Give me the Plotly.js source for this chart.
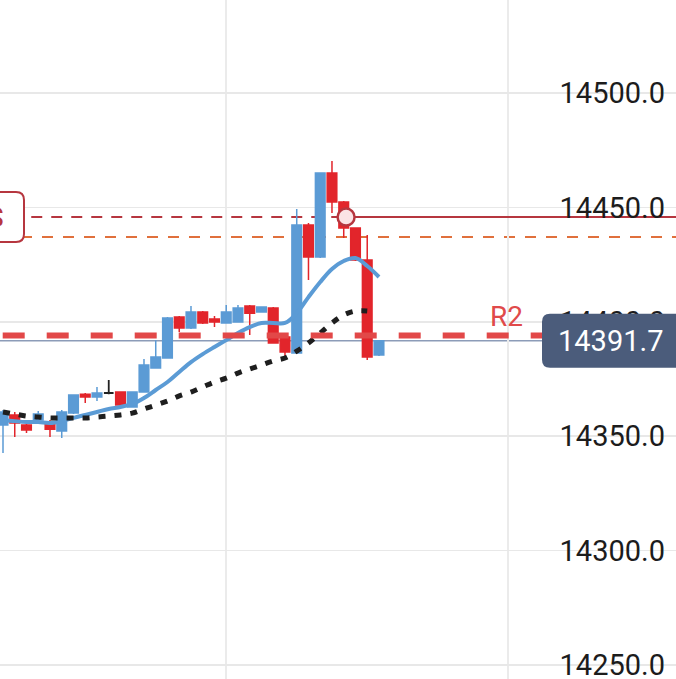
<!DOCTYPE html>
<html>
<head>
<meta charset="utf-8">
<script src="https://cdn.plot.ly/plotly-3.0.1.min.js"></script>
<style>
  html, body { margin: 0; padding: 0; background: #fff; }
  #chart { width: 676px; height: 679px; }
</style>
</head>
<body>
<div id="chart"></div>
<script>
// candles
const opens  = [14354.9, 14359.3, 14354.9, 14357.1, 14355.8, 14352.3, 14360.1, 14368.4, 14367.1, 14368.9,
                14369.3, 14362.8, 14369.3, 14379.8, 14384.2, 14402.1, 14397.3, 14404.3, 14401.2, 14399.5,
                14399.9, 14406.9, 14404.3, 14406.0, 14393.4, 14386.4, 14442.3, 14428.3, 14465.0, 14452.4,
                14441.0, 14427.0, 14385.5];
const highs  = [14361.5, 14360.6, 14356.2, 14361.0, 14357.1, 14361.5, 14368.4, 14368.9, 14371.5, 14374.6,
                14369.7, 14369.7, 14383.7, 14392.0, 14402.1, 14402.5, 14406.9, 14404.7, 14402.5, 14407.3,
                14407.3, 14407.3, 14406.5, 14406.5, 14395.1, 14449.3, 14443.2, 14465.4, 14470.3, 14452.8,
                14441.0, 14437.9, 14391.7];
const lows   = [14342.7, 14349.7, 14351.4, 14355.8, 14349.7, 14349.2, 14359.7, 14364.5, 14365.4, 14368.4,
                14363.2, 14362.4, 14369.3, 14379.8, 14384.2, 14395.5, 14396.9, 14399.1, 14397.7, 14399.5,
                14399.9, 14394.2, 14404.3, 14390.7, 14384.6, 14385.9, 14418.3, 14427.9, 14447.6, 14436.6,
                14426.6, 14383.3, 14385.1];
const closes = [14360.6, 14355.8, 14352.7, 14359.7, 14353.1, 14360.6, 14368.0, 14367.1, 14368.9, 14368.9,
                14363.6, 14369.3, 14381.1, 14384.6, 14401.7, 14397.3, 14404.3, 14399.5, 14399.9, 14404.3,
                14406.0, 14403.8, 14406.5, 14390.7, 14386.8, 14442.3, 14428.3, 14465.0, 14452.4, 14441.0,
                14427.0, 14384.6, 14391.7];

// moving averages
const maFast = [14357.1, 14356.6, 14356.2, 14356.2, 14355.8, 14356.6, 14358.0, 14359.3, 14360.6, 14361.9,
                14362.8, 14364.1, 14366.7, 14370.2, 14373.7, 14378.1, 14382.4, 14385.9, 14389.0, 14392.0,
                14395.1, 14397.7, 14399.5, 14399.5, 14399.5, 14403.8, 14410.8, 14417.4, 14423.1, 14426.6,
                14427.9, 14424.4, 14419.6];
const maSlow = [14360.6, 14359.7, 14358.8, 14358.4, 14358.0, 14358.0, 14358.0, 14358.0, 14358.4, 14358.8,
                14359.3, 14360.1, 14361.9, 14363.6, 14365.4, 14367.6, 14369.3, 14371.5, 14373.7, 14375.4,
                14377.6, 14379.4, 14381.1, 14382.9, 14384.2, 14387.2, 14390.7, 14395.1, 14399.5, 14403.0,
                14404.7, 14404.7];

const yTicks = [14250, 14300, 14350, 14400, 14450, 14500];
const timeGrid = [19, 43];

// levels
const r2Level = 14394.0;
const orderLevel = 14445.8;
const orderStart = 29.2;
const limitLevel = 14437.1;
const lastPrice = closes[closes.length - 1];

const idx = opens.map((_, i) => i);
const flat = idx.filter(i => opens[i] === closes[i]);
const moving = idx.filter(i => opens[i] !== closes[i]);
const pick = (arr, ids) => ids.map(i => arr[i]);

const BLUE = '#5b9bd5';
const RED = '#e2252b';
const DARKRED = '#b6363f';

const candles = {
  type: 'candlestick',
  x: moving, open: pick(opens, moving), high: pick(highs, moving),
  low: pick(lows, moving), close: pick(closes, moving),
  increasing: { line: { color: BLUE, width: 1.5 }, fillcolor: BLUE },
  decreasing: { line: { color: RED, width: 1.5 }, fillcolor: RED },
  hoverinfo: 'skip'
};
const dojis = {
  type: 'candlestick',
  x: flat, open: pick(opens, flat), high: pick(highs, flat),
  low: pick(lows, flat), close: pick(closes, flat),
  increasing: { line: { color: '#222', width: 1.8 }, fillcolor: '#222' },
  decreasing: { line: { color: '#222', width: 1.8 }, fillcolor: '#222' },
  hoverinfo: 'skip'
};
const fast = {
  type: 'scatter', mode: 'lines', x: idx, y: maFast,
  line: { color: BLUE, width: 4, shape: 'spline' }, hoverinfo: 'skip'
};
const slow = {
  type: 'scatter', mode: 'lines', x: idx.slice(0, maSlow.length), y: maSlow,
  line: { color: '#1e1e1e', width: 5, dash: '7px,9px', shape: 'spline' }, hoverinfo: 'skip'
};
const order = {
  type: 'scatter', mode: 'markers', x: [orderStart], y: [orderLevel],
  marker: { size: 17, color: '#fbe3e5', line: { color: DARKRED, width: 2.5 } },
  hoverinfo: 'skip'
};

// rounded boxes, sized in pixels round their anchor
const priceBox = 'M -126,-27 L 10,-27 L 10,27 L -126,27 Q -134,27 -134,19 L -134,-19 Q -134,-27 -126,-27 Z';
const orderBox = 'M -20,-25 L 16,-25 Q 24,-25 24,-17 L 24,17 Q 24,25 16,25 L -20,25 Z';

const layout = {
  width: 676, height: 679,
  margin: { l: 0, r: 0, t: 0, b: 0 },
  paper_bgcolor: '#fff', plot_bgcolor: '#fff',
  showlegend: false,
  boxgap: 0.18, boxgroupgap: 0,
  font: { family: 'Roboto, sans-serif' },
  xaxis: {
    range: [-0.255, 57.28],
    rangeslider: { visible: false },
    tickvals: timeGrid, showticklabels: false, ticks: '',
    showgrid: true, gridcolor: '#ebebeb', gridwidth: 1.5,
    zeroline: false, showline: false, fixedrange: true
  },
  yaxis: {
    side: 'right', range: [14243.9, 14540.65],
    tickvals: yTicks, tickformat: '.1f',
    ticklabelposition: 'inside', ticklabeloverflow: 'allow', ticks: '', ticklabelstandoff: 8,
    tickfont: { family: 'Roboto, sans-serif', size: 29, color: '#1c1c1c' },
    showgrid: true, gridcolor: '#e8e8e8', gridwidth: 1.5,
    zeroline: false, showline: false, fixedrange: true
  },
  shapes: [
    { type: 'line', xref: 'paper', x0: 0, x1: 1, yref: 'y', y0: lastPrice, y1: lastPrice,
      line: { color: '#8c9cb8', width: 1.5 }, layer: 'between' },
    { type: 'line', xref: 'x', x0: -1, x1: orderStart, yref: 'y', y0: orderLevel, y1: orderLevel,
      line: { color: DARKRED, width: 2, dash: '11px,9px' }, layer: 'between' },
    { type: 'line', xref: 'x', x0: orderStart, x1: 60, yref: 'y', y0: orderLevel, y1: orderLevel,
      line: { color: DARKRED, width: 2 }, layer: 'between' },
    { type: 'line', xref: 'paper', x0: 0, x1: 1, yref: 'y', y0: limitLevel, y1: limitLevel,
      line: { color: '#e0703c', width: 2, dash: '11px,10px' }, layer: 'between' },
    { type: 'line', xref: 'paper', x0: 0.004, x1: 1, yref: 'y', y0: r2Level, y1: r2Level,
      line: { color: '#e24848', width: 6, dash: '22px,22px' }, layer: 'above' },
    { type: 'path', xref: 'paper', xsizemode: 'pixel', xanchor: 1,
      yref: 'y', ysizemode: 'pixel', yanchor: lastPrice, path: priceBox,
      fillcolor: '#4b5c7b', line: { width: 0 }, layer: 'above' },
    { type: 'path', xref: 'paper', xsizemode: 'pixel', xanchor: 0,
      yref: 'y', ysizemode: 'pixel', yanchor: orderLevel, path: orderBox,
      fillcolor: '#ffffff', line: { color: DARKRED, width: 2 }, layer: 'above' }
  ],
  annotations: [
    { xref: 'paper', x: 506 / 676, xanchor: 'center', yref: 'y', y: r2Level, yanchor: 'bottom',
      yshift: 1, text: 'R2', showarrow: false,
      font: { family: 'Roboto, sans-serif', size: 28, color: '#e04a4a' } },
    { xref: 'paper', x: 556 / 676, xanchor: 'left', yref: 'y', y: lastPrice, yanchor: 'middle',
      text: lastPrice.toFixed(1), showarrow: false,
      font: { family: 'Roboto, sans-serif', size: 29, color: '#ffffff' } },
    { xref: 'paper', x: 6 / 676, xanchor: 'right', yref: 'y', y: orderLevel, yanchor: 'middle',
      text: 'S', showarrow: false,
      font: { family: 'Roboto, sans-serif', size: 28, color: DARKRED } }
  ]
};

Plotly.newPlot('chart', [candles, dojis, fast, slow, order], layout, { staticPlot: true, displayModeBar: false });
</script>
</body>
</html>
